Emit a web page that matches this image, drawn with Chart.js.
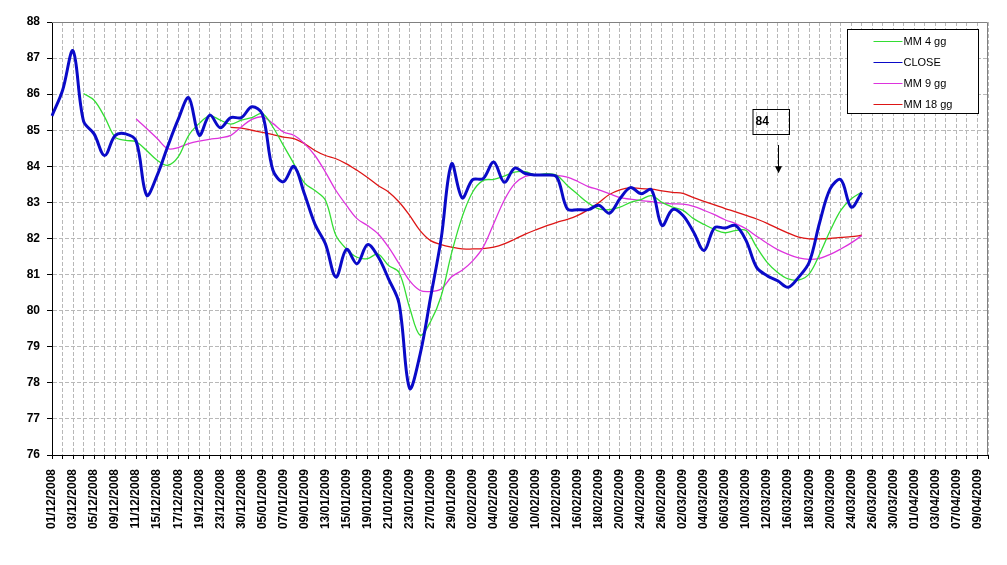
<!DOCTYPE html>
<html>
<head>
<meta charset="utf-8">
<script src="https://cdn.jsdelivr.net/npm/chart.js@4.4.1/dist/chart.umd.min.js"></script>
<style>
  html, body { margin: 0; padding: 0; background: #fff; }
  #chart { display: block; }
</style>
</head>
<body>
<canvas id="chart" width="1007" height="565"></canvas>
<script>
// trading days (labels shown every other day, like the original sheet)
const dates = [
  '01/12/2008','02/12/2008','03/12/2008','04/12/2008','05/12/2008','08/12/2008','09/12/2008','10/12/2008','11/12/2008','12/12/2008',
  '15/12/2008','16/12/2008','17/12/2008','18/12/2008','19/12/2008','22/12/2008','23/12/2008','29/12/2008','30/12/2008','02/01/2009',
  '05/01/2009','06/01/2009','07/01/2009','08/01/2009','09/01/2009','12/01/2009','13/01/2009','14/01/2009','15/01/2009','16/01/2009',
  '19/01/2009','20/01/2009','21/01/2009','22/01/2009','23/01/2009','26/01/2009','27/01/2009','28/01/2009','29/01/2009','30/01/2009',
  '02/02/2009','03/02/2009','04/02/2009','05/02/2009','06/02/2009','09/02/2009','10/02/2009','11/02/2009','12/02/2009','13/02/2009',
  '16/02/2009','17/02/2009','18/02/2009','19/02/2009','20/02/2009','23/02/2009','24/02/2009','25/02/2009','26/02/2009','27/02/2009',
  '02/03/2009','03/03/2009','04/03/2009','05/03/2009','06/03/2009','09/03/2009','10/03/2009','11/03/2009','12/03/2009','13/03/2009',
  '16/03/2009','17/03/2009','18/03/2009','19/03/2009','20/03/2009','23/03/2009','24/03/2009','25/03/2009','26/03/2009','27/03/2009',
  '30/03/2009','31/03/2009','01/04/2009','02/04/2009','03/04/2009','06/04/2009','07/04/2009','08/04/2009','09/04/2009','14/04/2009'
];

const close = [
  85.4, 86.1, 87.2, 85.25, 84.9, 84.3, 84.85, 84.9, 84.7, 83.2,
  83.75, 84.55, 85.3, 85.9, 84.86, 85.42, 85.07, 85.35, 85.35, 85.65,
  85.45, 83.9, 83.57, 84.0, 83.24, 82.4, 81.85, 80.93, 81.7, 81.3,
  81.83, 81.5, 80.88, 80.2, 77.85, 78.79, 80.37, 81.99, 84.07, 83.13,
  83.63, 83.66, 84.12, 83.56, 83.95, 83.8, 83.76, 83.76, 83.7, 82.82,
  82.8, 82.8, 82.92, 82.7, 83.1, 83.41, 83.24, 83.35, 82.36, 82.8,
  82.64, 82.18, 81.67, 82.3, 82.29, 82.36, 81.94, 81.2, 80.97, 80.83,
  80.65, 80.93, 81.34, 82.45, 83.38, 83.63, 82.87, 83.27
];

const mm4 = [
  null, null, null, 86.02, 85.83, 85.37, 84.81, 84.72, 84.68, 84.44,
  84.17, 84.03, 84.26, 84.86, 85.19, 85.4, 85.28, 85.17, 85.28, 85.35,
  85.46, 85.09, 84.58, 84.07, 83.54, 83.33, 83.06, 82.08, 81.71, 81.48,
  81.44, 81.57, 81.25, 81.06, 80.09, 79.32, 79.7, 80.4, 81.6, 82.6,
  83.29, 83.61, 83.64, 83.73, 83.84, 83.85, 83.76, 83.8, 83.75, 83.47,
  83.22, 82.98, 82.82, 82.8, 82.87, 83.0, 83.08, 83.19, 83.0, 82.87,
  82.78, 82.55, 82.39, 82.25, 82.16, 82.22, 82.22, 81.76, 81.34, 81.06,
  80.88, 80.85, 81.02, 81.57, 82.22, 82.78, 83.1, 83.29
];

const mm9 = [
  null, null, null, null, null, null, null, null, 85.31, 85.05,
  84.77, 84.49, 84.52, 84.63, 84.7, 84.75, 84.79, 84.86, 85.09, 85.3,
  85.37, 85.19, 84.95, 84.86, 84.63, 84.3, 83.84, 83.33, 82.92, 82.55,
  82.36, 82.13, 81.76, 81.3, 80.83, 80.56, 80.53, 80.6, 80.94, 81.12,
  81.38, 81.76, 82.41, 83.06, 83.52, 83.72, 83.76, 83.75, 83.75, 83.7,
  83.58, 83.44, 83.35, 83.24, 83.13, 83.09, 83.05, 83.02, 82.98, 82.96,
  82.95, 82.89, 82.78, 82.66, 82.52, 82.41, 82.27, 82.06, 81.87, 81.69,
  81.56, 81.46, 81.42, 81.45, 81.56, 81.71, 81.88, 82.08
];

const mm18 = [
  null, null, null, null, null, null, null, null, null, null,
  null, null, null, null, null, null, null, 85.08, 85.06, 85.0,
  84.94, 84.88, 84.81, 84.77, 84.63, 84.44, 84.3, 84.21, 84.07, 83.89,
  83.69, 83.47, 83.29, 83.01, 82.64, 82.22, 81.94, 81.83, 81.76, 81.71,
  81.71, 81.72, 81.76, 81.85, 81.98, 82.12, 82.24, 82.35, 82.45, 82.53,
  82.64, 82.8, 83.0, 83.22, 83.35, 83.41, 83.38, 83.37, 83.32, 83.28,
  83.25, 83.13, 83.03, 82.93, 82.83, 82.74, 82.64, 82.54, 82.42, 82.28,
  82.15, 82.04, 81.99, 81.99, 82.0, 82.03, 82.05, 82.09
];

const yMin = 76;
const yMax = 88;

// target note drawn over the chart
const noteText = '84';
const noteIndex = 69;

const FONT = "'Liberation Sans', Arial, sans-serif";
const GRID = '#b8b8b8';

const series = [
  { label: 'CLOSE', data: close, color: '#0a0ac8', width: 3 },
  { label: 'MM 4 gg', data: mm4, color: '#33dd33', width: 1.3 },
  { label: 'MM 9 gg', data: mm9, color: '#dd33dd', width: 1.3 },
  { label: 'MM 18 gg', data: mm18, color: '#dd1515', width: 1.3 }
];
const legendOrder = ['MM 4 gg', 'CLOSE', 'MM 9 gg', 'MM 18 gg'];

const decor = {
  id: 'decor',
  beforeDatasetsDraw(chart) {
    const { ctx, chartArea: a } = chart;
    ctx.save();
    ctx.strokeStyle = '#808080';
    ctx.lineWidth = 1;
    ctx.beginPath();
    ctx.moveTo(a.left, a.top + 0.5);
    ctx.lineTo(a.right - 0.5, a.top + 0.5);
    ctx.lineTo(a.right - 0.5, a.bottom);
    ctx.stroke();
    ctx.restore();
  },
  afterDraw(chart) {
    const { ctx, chartArea: a, scales } = chart;
    ctx.save();

    // legend box
    const w = 131, h = 84;
    const lx = Math.round(a.right - 10 - w) + 0.5;
    const ly = Math.round(a.top + 7) + 0.5;
    ctx.fillStyle = '#fff';
    ctx.fillRect(lx, ly, w, h);
    ctx.strokeStyle = '#000';
    ctx.lineWidth = 1;
    ctx.strokeRect(lx, ly, w, h);
    ctx.font = '11px ' + FONT;
    ctx.textBaseline = 'middle';
    ctx.textAlign = 'left';
    legendOrder.forEach((name, i) => {
      const s = series.find(d => d.label === name);
      const ry = Math.round(ly + 11.5 + i * 21) + 0.5;
      ctx.strokeStyle = s.color;
      ctx.lineWidth = 1;
      ctx.beginPath();
      ctx.moveTo(lx + 26, ry);
      ctx.lineTo(lx + 55, ry);
      ctx.stroke();
      ctx.fillStyle = '#000';
      ctx.fillText(name, lx + 56, ry);
    });

    // "84" note with arrow
    const x = scales.x, y = scales.y;
    const ax = Math.round(x.getPixelForValue(noteIndex)) + 0.5;
    const bTop = Math.round(y.getPixelForValue(85.58)) + 0.5;
    const bBot = Math.round(y.getPixelForValue(84.89)) + 0.5;
    ctx.strokeStyle = '#000';
    ctx.strokeRect(ax - 25.5, bTop, 36.5, bBot - bTop);
    ctx.font = 'bold 12px ' + FONT;
    ctx.fillStyle = '#000';
    ctx.fillText(noteText, ax - 23, (bTop + bBot) / 2);

    const t0 = y.getPixelForValue(84.59);
    const t1 = y.getPixelForValue(83.81);
    ctx.beginPath();
    ctx.moveTo(ax, t0);
    ctx.lineTo(ax, t1 - 5);
    ctx.stroke();
    ctx.beginPath();
    ctx.moveTo(ax - 3.5, t1 - 7);
    ctx.lineTo(ax + 3.5, t1 - 7);
    ctx.lineTo(ax, t1);
    ctx.closePath();
    ctx.fill();

    ctx.restore();
  }
};

new Chart(document.getElementById('chart'), {
  type: 'line',
  data: {
    labels: dates,
    datasets: series.map(s => ({
      label: s.label,
      data: s.data,
      borderColor: s.color,
      backgroundColor: s.color,
      borderWidth: s.width,
      pointRadius: 0,
      fill: false,
      tension: 0.35
    }))
  },
  options: {
    responsive: false,
    animation: false,
    devicePixelRatio: 1,
    layout: { padding: { top: 22, right: 19, left: 0, bottom: 0 } },
    plugins: {
      legend: { display: false },
      tooltip: { enabled: false }
    },
    scales: {
      x: {
        offset: false,
        afterFit: scale => {
          scale.height = 110;
          scale.paddingLeft = 0;
          scale.paddingRight = 4;
        },
        grid: {
          color: GRID,
          tickColor: '#000',
          tickLength: 4,
          offset: false
        },
        border: { display: true, color: '#000', width: 1, dash: [4, 2] },
        ticks: {
          autoSkip: false,
          minRotation: 90,
          maxRotation: 90,
          padding: 10,
          color: '#000',
          font: { family: FONT, size: 12, weight: 'bold' },
          callback: function (value, index) {
            return index % 2 === 0 ? this.getLabelForValue(value) : '';
          }
        }
      },
      y: {
        min: yMin,
        max: yMax,
        afterFit: scale => { scale.width = 52; },
        grid: {
          color: GRID,
          tickColor: '#000',
          tickLength: 5
        },
        border: { display: true, color: '#000', width: 1, dash: [4, 2] },
        ticks: {
          stepSize: 1,
          padding: 7,
          color: '#000',
          font: { family: FONT, size: 12, weight: 'bold' }
        }
      }
    }
  },
  plugins: [decor]
});
</script>
</body>
</html>
